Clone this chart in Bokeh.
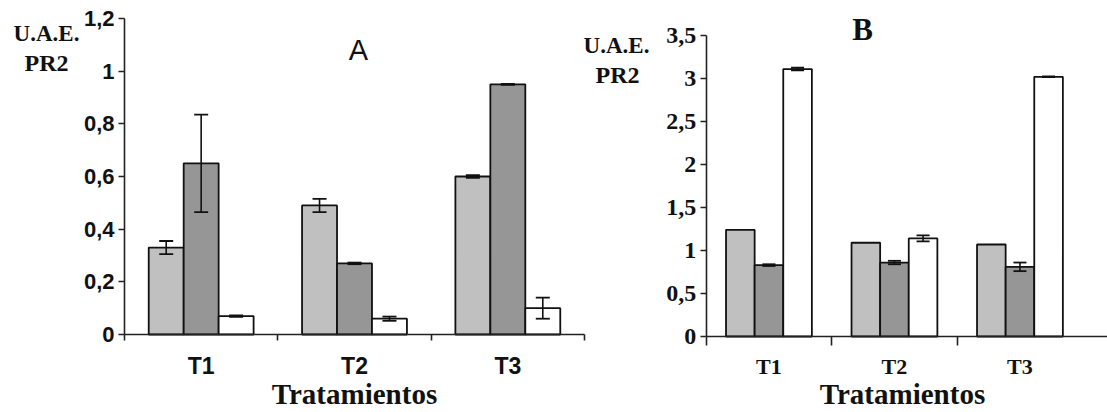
from bokeh.plotting import figure
from bokeh.models import (ColumnDataSource, Whisker, TeeHead, Label, FixedTicker,
                          Range1d, LinearAxis)
from bokeh.embed import file_html
from bokeh.resources import INLINE

# ---------------- data ----------------
categories = ["T1", "T2", "T3"]

a_light = [0.33, 0.49, 0.60]
a_light_err = [0.025, 0.025, 0.005]
a_dark = [0.65, 0.27, 0.95]
a_dark_err = [0.185, 0.003, 0.002]
a_white = [0.07, 0.06, 0.10]
a_white_err = [0.003, 0.008, 0.04]

b_light = [1.24, 1.09, 1.07]
b_light_err = [0.0, 0.0, 0.0]
b_dark = [0.83, 0.86, 0.81]
b_dark_err = [0.01, 0.02, 0.05]
b_white = [3.11, 1.14, 3.02]
b_white_err = [0.015, 0.035, 0.005]

a_yticks = [0, 0.2, 0.4, 0.6, 0.8, 1.0, 1.2]
a_ylabels = ["0", "0,2", "0,4", "0,6", "0,8", "1", "1,2"]
b_yticks = [0, 0.5, 1.0, 1.5, 2.0, 2.5, 3.0, 3.5]
b_ylabels = ["0", "0,5", "1", "1,5", "2", "2,5", "3", "3,5"]

colors = ["#c0c0c0", "#969696", "#ffffff"]
BAR_W = 0.228
offsets = [-BAR_W, 0.0, BAR_W]

SANS = "Liberation Sans"
SERIF = "Liberation Serif"
INK = "#111111"

W, H = 1107, 412
# pixel placement of each panel's axes (origin px, px per unit)
A_X0, A_XS = 124.0, 153.333
A_Y0, A_YS = 334.0, 263.333
B_X0, B_XS = 705.7, 125.5
B_Y0, B_YS = 336.0, 86.0

p = figure(width=W, height=H, output_backend="svg", toolbar_location=None,
           title=None, x_axis_type=None, y_axis_type=None,
           x_range=Range1d(-A_X0 / A_XS, (W - A_X0) / A_XS),
           y_range=Range1d(-(H - A_Y0) / A_YS, A_Y0 / A_YS),
           min_border=0)
p.extra_x_ranges = {"B": Range1d(-B_X0 / B_XS, (W - B_X0) / B_XS)}
p.extra_y_ranges = {"B": Range1d(-(H - B_Y0) / B_YS, B_Y0 / B_YS)}
p.outline_line_color = None
p.xgrid.visible = False
p.ygrid.visible = False
p.background_fill_color = "white"
p.border_fill_color = "white"


def draw_bars(series, errs, rname, head):
    kw = {} if rname is None else dict(x_range_name=rname, y_range_name=rname)
    for vals, err, col, off in zip(series, errs, colors, offsets):
        xs = [i + 0.5 + off for i in range(len(categories))]
        src = ColumnDataSource(dict(x=xs, top=vals,
                                    upper=[v + e for v, e in zip(vals, err)],
                                    lower=[v - e for v, e in zip(vals, err)]))
        p.vbar(x="x", top="top", width=BAR_W, bottom=0, source=src,
               fill_color=col, line_color=INK, line_width=1.8, **kw)
        if max(err) > 0:
            w = Whisker(base="x", upper="upper", lower="lower", source=src,
                        level="overlay", line_color=INK, line_width=1.6,
                        upper_head=TeeHead(size=head, line_color=INK, line_width=1.8),
                        lower_head=TeeHead(size=head, line_color=INK, line_width=1.8),
                        **kw)
            p.add_layout(w)


def add_axes(rname, yticks, ylabels, ybound, xbound, tick_font, tick_size,
             cat_font, cat_size, minor_ticks, minor_len, cat_standoff):
    kw = {} if rname is None else dict(x_range_name=rname, y_range_name=rname)
    yax = LinearAxis(fixed_location=0, bounds=ybound, **kw)
    yax.ticker = FixedTicker(ticks=yticks)
    yax.major_label_overrides = {t: l for t, l in zip(yticks, ylabels)}
    yax.major_tick_in = 0
    yax.major_tick_out = 6
    yax.minor_tick_line_color = None
    yax.major_label_standoff = 4
    yax.major_label_text_font = tick_font
    yax.major_label_text_font_style = "bold"
    yax.major_label_text_font_size = tick_size
    yax.major_label_text_color = INK
    yax.axis_line_width = 1.6
    yax.axis_line_color = "#222222"
    yax.major_tick_line_width = 1.6
    yax.major_tick_line_color = "#222222"
    p.add_layout(yax, "left")

    xax = LinearAxis(fixed_location=0, bounds=xbound, **kw)
    xax.ticker = FixedTicker(ticks=[i + 0.5 for i in range(len(categories))],
                             minor_ticks=minor_ticks)
    xax.major_label_overrides = {i + 0.5: c for i, c in enumerate(categories)}
    xax.major_tick_in = 0
    xax.major_tick_out = 0
    xax.minor_tick_in = 0
    xax.minor_tick_out = minor_len
    xax.minor_tick_line_width = 1.6
    xax.minor_tick_line_color = "#222222"
    xax.axis_line_width = 1.6
    xax.axis_line_color = "#222222"
    xax.major_label_standoff = cat_standoff
    xax.major_label_text_font = cat_font
    xax.major_label_text_font_style = "bold"
    xax.major_label_text_font_size = cat_size
    xax.major_label_text_color = INK
    p.add_layout(xax, "below")


draw_bars([a_light, a_dark, a_white], [a_light_err, a_dark_err, a_white_err], None, 14)
draw_bars([b_light, b_dark, b_white], [b_light_err, b_dark_err, b_white_err], "B", 13)

add_axes(None, a_yticks, a_ylabels, (0, 1.2), (0, 3),
         SANS, "22px", SANS, "23px", [0, 1, 2, 3], 6, 12)
add_axes("B", b_yticks, b_ylabels, (0, 3.5), (0, (W - B_X0) / B_XS),
         SERIF, "24px", SERIF, "22px", [0, 1, 2], 9, 8)


def text(x, y, s, font, size, bold=True):
    p.add_layout(Label(x=x, y=y, x_units="screen", y_units="screen", text=s,
                       text_font=font, text_font_size=size,
                       text_font_style="bold" if bold else "normal",
                       text_align="center", text_color=INK))


# panel A texts (screen px, x from left, y from bottom)
text(358, H - 65, "A", SANS, "29px", bold=False)
text(46, H - 45, "U.A.E.", SERIF, "23px")
text(46, H - 75, "PR2", SERIF, "24px")
text(354, 3, "Tratamientos", SERIF, "29px")
# panel B texts
text(862, H - 46, "B", SERIF, "31px")
text(616, H - 57, "U.A.E.", SERIF, "23px")
text(617, H - 87, "PR2", SERIF, "24px")
text(902, 3, "Tratamientos", SERIF, "29px")

open("out.html", "w").write(file_html(p, INLINE))
